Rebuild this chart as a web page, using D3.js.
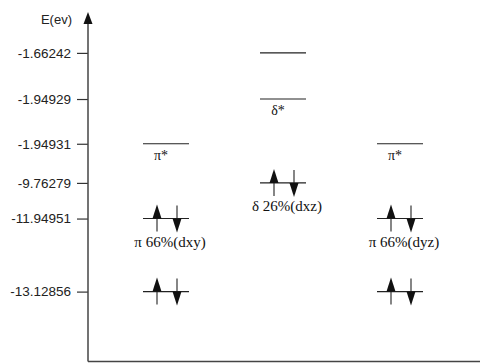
<!DOCTYPE html>
<html>
<head>
<meta charset="utf-8">
<script src="https://cdn.jsdelivr.net/npm/d3@7"></script>
<style>
  body { margin: 0; background: #fff; }
  svg { display: block; }
</style>
</head>
<body>
<div id="chart"></div>
<script>
// energy tick labels (eV) and where they sit on the schematic axis (0 = top, 100 = bottom)
var tickLabels = ["-1.66242", "-1.94929", "-1.94931", "-9.76279", "-11.94951", "-13.12856"];
var tickPos = [11.7, 24.9, 37.7, 48.9, 59.1, 80];

// orbital columns
var columns = ["dxy", "dxz", "dyz"];

// energy levels: column, energy, number of electrons
var levelCol = ["dxy", "dxy", "dxy", "dxz", "dxz", "dxz", "dyz", "dyz", "dyz"];
var levelE = ["-1.94931", "-11.94951", "-13.12856", "-1.66242", "-1.94929", "-9.76279", "-1.94931", "-11.94951", "-13.12856"];
var levelElectrons = [0, 2, 2, 0, 0, 2, 0, 2, 2];

// labels under the levels
var labelCol = ["dxy", "dxy", "dxz", "dxz", "dyz", "dyz"];
var labelE = ["-1.94931", "-11.94951", "-1.94929", "-9.76279", "-1.94931", "-11.94951"];
var labelText = ["π*", "π 66%(dxy)", "δ*", "δ 26%(dxz)", "π*", "π 66%(dyz)"];

var width = 482, height = 363;
var axisX = 88, axisBottom = 361.5, axisTop = 12;

var svg = d3.select("#chart").append("svg")
    .attr("width", width)
    .attr("height", height);

var y = d3.scaleLinear().domain([0, 100]).range([axisTop, axisBottom]);
var x = d3.scalePoint().domain(columns).range([166, 400]);

// energy -> y position
var posOf = {};
tickLabels.forEach(function (t, i) { posOf[t] = tickPos[i]; });

// y axis with energy labels
var axis = d3.axisLeft(y)
    .tickValues(tickPos)
    .tickFormat(function (d, i) { return tickLabels[i]; })
    .tickSize(11)
    .tickPadding(6)
    .tickSizeOuter(0);

var gAxis = svg.append("g")
    .attr("transform", "translate(" + axisX + ",0)")
    .call(axis);
gAxis.select(".domain").remove();
gAxis.selectAll(".tick line").attr("stroke", "#333").attr("stroke-width", 1.2);
gAxis.selectAll(".tick text")
    .attr("fill", "#222")
    .style("font-family", "'Liberation Sans', Arial, sans-serif")
    .style("font-size", "13.5px");

// axis lines
svg.append("line")
    .attr("x1", axisX).attr("x2", axisX)
    .attr("y1", axisBottom).attr("y2", axisTop + 6)
    .attr("stroke", "#444").attr("stroke-width", 1.5);
svg.append("line")
    .attr("x1", axisX).attr("x2", width - 2)
    .attr("y1", axisBottom).attr("y2", axisBottom)
    .attr("stroke", "#444").attr("stroke-width", 1.5);
svg.append("path")
    .attr("d", "M" + axisX + "," + axisTop + "L" + (axisX - 4.5) + "," + (axisTop + 12) + "L" + (axisX + 4.5) + "," + (axisTop + 12) + "Z")
    .attr("fill", "#111");

svg.append("text")
    .attr("x", 72).attr("y", 24)
    .attr("text-anchor", "end")
    .attr("fill", "#222")
    .style("font-family", "'Liberation Sans', Arial, sans-serif")
    .style("font-size", "13px")
    .text("E(ev)");

// energy levels
var levels = levelCol.map(function (c, i) {
    return { col: c, e: levelE[i], n: levelElectrons[i] };
});

var half = 23;
var gLev = svg.selectAll(".level")
    .data(levels)
    .enter()
    .append("g")
    .attr("class", "level")
    .attr("transform", function (d) {
        return "translate(" + x(d.col) + "," + y(posOf[d.e]) + ")";
    });

gLev.append("line")
    .attr("x1", -half).attr("x2", half)
    .attr("y1", 0).attr("y2", 0)
    .attr("stroke", "#222").attr("stroke-width", 1.1);

// electrons: up and down arrows
var occ = gLev.filter(function (d) { return d.n >= 1; });
occ.append("line")
    .attr("x1", -9).attr("x2", -9)
    .attr("y1", 13).attr("y2", -4)
    .attr("stroke", "#222").attr("stroke-width", 1.1);
occ.append("path")
    .attr("d", "M-9,-14L-13.5,0L-4.5,0Z")
    .attr("fill", "#111");

var occ2 = gLev.filter(function (d) { return d.n >= 2; });
occ2.append("line")
    .attr("x1", 11).attr("x2", 11)
    .attr("y1", -13).attr("y2", 4)
    .attr("stroke", "#222").attr("stroke-width", 1.1);
occ2.append("path")
    .attr("d", "M11,14L6.5,0L15.5,0Z")
    .attr("fill", "#111");

// labels
var labels = labelCol.map(function (c, i) {
    return { col: c, e: labelE[i], text: labelText[i] };
});

svg.selectAll(".lab")
    .data(labels)
    .enter()
    .append("text")
    .attr("class", "lab")
    .attr("x", function (d) { return x(d.col) + (d.text.length > 2 ? 4 : -5); })
    .attr("y", function (d) { return y(posOf[d.e]) + (d.text.length > 2 ? 28 : 16); })
    .attr("text-anchor", "middle")
    .attr("fill", "#111")
    .style("font-family", "'Liberation Serif', 'Times New Roman', serif")
    .style("font-size", function (d) { return d.text.length > 2 ? "15px" : "14px"; })
    .text(function (d) { return d.text; });
</script>
</body>
</html>
